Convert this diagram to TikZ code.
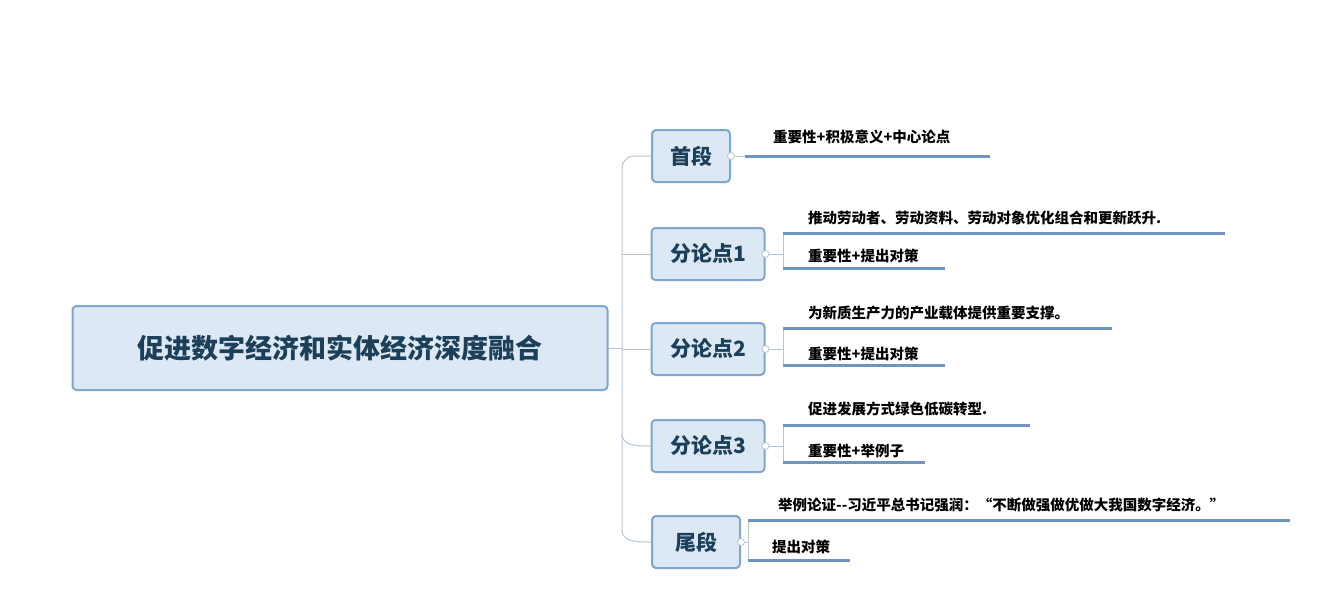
\documentclass[tikz,border=0pt]{standalone}
\usepackage{fontspec}
\setmainfont{Noto Sans CJK SC}
\begin{document}
\begin{tikzpicture}[x=1pt,y=-1pt,
  box/.style={draw=boxedge,line width=2pt,fill=boxfill,rounded corners=4pt,inner sep=0pt},
  ctext/.style={font=\fontsize{21}{21}\selectfont\bfseries,text=textdark},
  ltext/.style={font=\fontsize{14.5}{14.5}\selectfont\bfseries,text=black,anchor=west,inner sep=0pt},
  leaf/.style={draw=leafline,line width=3pt},
  conn/.style={draw=connline,line width=1pt},
  knob/.style={circle,draw=connline,fill=white,line width=0.8pt,minimum size=7pt,inner sep=0pt}]
\definecolor{boxedge}{HTML}{7FA6CF}
\definecolor{boxfill}{HTML}{DCE8F4}
\definecolor{textdark}{HTML}{1C3F5A}
\definecolor{leafline}{HTML}{6F94BD}
\definecolor{connline}{HTML}{B8C6D2}
\useasboundingbox[fill=white] (0,0) rectangle (1342,614);
% root
\node[box,minimum width=535pt,minimum height=84pt] (root) at (340,348) {};
\node[font=\fontsize{27}{27}\selectfont\bfseries,text=textdark] (roott) at (root) {促进数字经济和实体经济深度融合};
% children
\node[box,minimum width=78pt,minimum height=52pt] (c0) at (691,156) {};
\node[ctext] at (c0) {首段};
\node[box,minimum width=113pt,minimum height=52pt] (c1) at (708,254) {};
\node[ctext] at (c1) {分论点1};
\node[box,minimum width=113pt,minimum height=52pt] (c2) at (708,349) {};
\node[ctext] at (c2) {分论点2};
\node[box,minimum width=113pt,minimum height=52pt] (c3) at (708,446) {};
\node[ctext] at (c3) {分论点3};
\node[box,minimum width=88pt,minimum height=52pt] (c4) at (696,542) {};
\node[ctext] at (c4) {尾段};
% spine
\coordinate (sp) at (622,348);
\draw[conn] (root.east) -- (sp);
\draw[conn] (c0.west) -- (634,156) to[out=180,in=90] (622,168) -- (622,530) to[out=-90,in=180] (c4.west);
\draw[conn] (622,254) -- (c1.west);
\draw[conn] (622,349) -- (c2.west);
\draw[conn] (622,434) to[out=-90,in=180] (c3.west);
% 首段
\node[knob] (k0) at (c0.east) {};
\draw[conn] (k0) -- (745,156);
\draw[leaf] (745,156) -- (990,156);
\node[ltext] at (773,137) {重要性+积极意义+中心论点};
% 分论点1
\node[knob] (k1) at (c1.east) {};
\draw[conn] (k1) -- (783,254);
\draw[conn] (783,233) -- (783,268);
\draw[leaf] (783,233) -- (1225,233);
\draw[leaf] (783,268) -- (945,268);
\node[ltext] at (808,218) {推动劳动者、劳动资料、劳动对象优化组合和更新跃升.};
\node[ltext] at (808,256) {重要性+提出对策};
% 分论点2
\node[knob] (k2) at (c2.east) {};
\draw[conn] (k2) -- (783,349);
\draw[conn] (783,328) -- (783,365);
\draw[leaf] (783,328) -- (1112,328);
\draw[leaf] (783,365) -- (945,365);
\node[ltext] at (808,313) {为新质生产力的产业载体提供重要支撑。};
\node[ltext] at (808,354) {重要性+提出对策};
% 分论点3
\node[knob] (k3) at (c3.east) {};
\draw[conn] (k3) -- (783,446);
\draw[conn] (783,425) -- (783,462);
\draw[leaf] (783,425) -- (1030,425);
\draw[leaf] (783,462) -- (925,462);
\node[ltext] at (808,409) {促进发展方式绿色低碳转型.};
\node[ltext] at (808,451) {重要性+举例子};
% 尾段
\node[knob] (k4) at (c4.east) {};
\draw[conn] (k4) -- (748,542);
\draw[conn] (748,520) -- (748,560);
\draw[leaf] (748,520) -- (1290,520);
\draw[leaf] (748,560) -- (850,560);
\node[ltext] at (778,505) {举例论证-{}-习近平总书记强润：“不断做强做优做大我国数字经济。”};
\node[ltext] at (772,547) {提出对策};
\end{tikzpicture}
\end{document}
